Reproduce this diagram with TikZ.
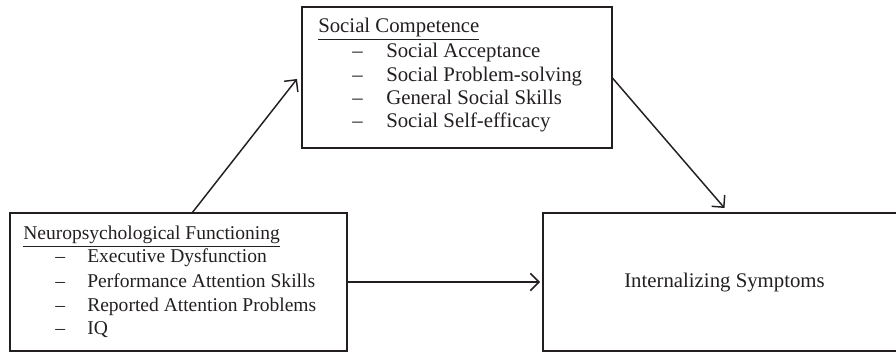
\documentclass[tikz,border=0pt]{standalone}
\usepackage{fontspec}
\setmainfont{Liberation Serif}
\usetikzlibrary{arrows.meta,calc}
\definecolor{ink}{HTML}{231F20}
\begin{document}
\begin{tikzpicture}[x=0.75pt,y=-0.75pt,
  box/.style={draw=ink,line width=0.9pt,rectangle,inner sep=0pt,outer sep=0pt},
  txt/.style={anchor=base west,inner sep=0pt,text=ink,font=\fontsize{15.6}{18}\selectfont},
  ntxt/.style={anchor=base west,inner sep=0pt,text=ink,font=\fontsize{14.65}{17}\selectfont},
  conn/.style={draw=ink,line width=1.1pt,-{Straight Barb[length=6.5pt,width=13pt,line width=1.1pt]}}]
\useasboundingbox (0,0) rectangle (896,352);
% boxes
\node[box,minimum width=232.5pt,minimum height=105.75pt] (social) at (457,77.5) {};
\node[box,minimum width=252.75pt,minimum height=103.5pt] (neuro) at (178.5,282) {};
\node[box,minimum width=272.25pt,minimum height=103.5pt] (internal) at (724.5,282) {};
% social competence text
\node[txt] (sc) at (318,33) {\underline{Social Competence}};
\node[txt] (sd1) at (352,58) {\textendash};
\node[txt] (sd2) at (352,82) {\textendash};
\node[txt] (sd3) at (352,105) {\textendash};
\node[txt] (sd4) at (352,128) {\textendash};
\node[txt] (s1) at (386,58) {Social Acceptance};
\node[txt] (s2) at (386,82) {Social Problem-solving};
\node[txt] (s3) at (386,105) {General Social Skills};
\node[txt] (s4) at (386,128) {Social Self-efficacy};
% neuro text
\node[ntxt] (nf) at (23,240) {\underline{Neuropsychological Functioning}};
\node[ntxt] (nd1) at (55,263) {\textendash};
\node[ntxt] (nd2) at (55,288) {\textendash};
\node[ntxt] (nd3) at (55,312) {\textendash};
\node[ntxt] (nd4) at (55,335) {\textendash};
\node[ntxt] (n1) at (87,263) {Executive Dysfunction};
\node[ntxt] (n2) at (87,288) {Performance Attention Skills};
\node[ntxt] (n3) at (87,312) {Reported Attention Problems};
\node[ntxt] (n4) at (87,335) {IQ};
% internalizing text
\node[inner sep=0pt,text=ink,font=\fontsize{15.6}{18}\selectfont] (is) at (724.5,283) {Internalizing Symptoms};
% connectors
\coordinate (a1s) at ($(neuro.north west)+(182,0)$);
\coordinate (a1e) at ($(social.west)+(-5,1.5)$);
\draw[conn] (a1s) -- (a1e);
\coordinate (a2e) at ($(internal.north)+(0,-5)$);
\draw[conn] (social.east) -- (a2e);
\draw[conn,shorten >=2.25pt] (neuro.east) -- (internal.west);
\end{tikzpicture}
\end{document}
